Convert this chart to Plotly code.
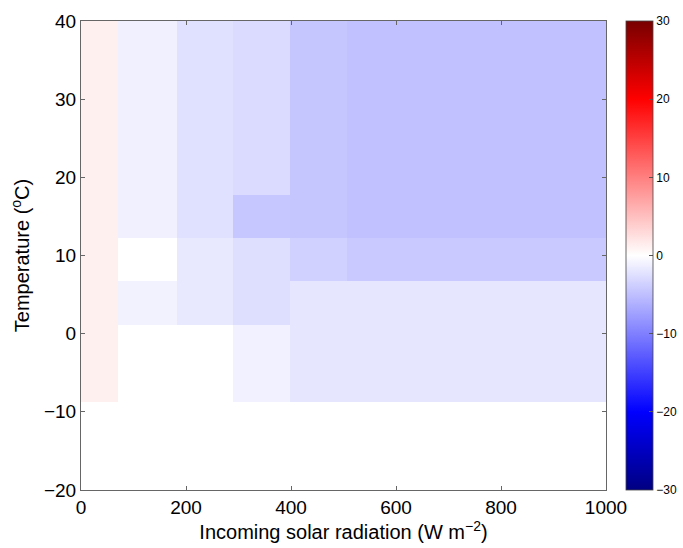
import plotly.graph_objects as go

# Bin edges (irregular bins)
radiation_edges = [0, 70, 183, 290, 398, 507, 1000]
temperature_edges = [-20, -8.7, 1.1, 6.7, 12.2, 17.7, 40]

# Values per cell: rows = temperature bins (bottom->top), cols = radiation bins
row_m20_m9 = [0.0, 0.0, 0.0, 0.0, 0.0, 0.0]
row_m9_1 = [1.2, 0.0, 0.0, -1.1, -2.0, -2.0]
row_1_7 = [1.2, -1.0, -1.8, -2.6, -2.0, -2.0]
row_7_12 = [1.2, 0.0, -1.8, -2.6, -3.6, -4.2]
row_12_18 = [1.2, -1.2, -2.4, -4.4, -4.5, -4.9]
row_18_40 = [1.2, -1.2, -2.4, -2.8, -4.5, -4.9]

z = [row_m20_m9, row_m9_1, row_1_7, row_7_12, row_12_18, row_18_40]

colorscale = [
    [0.0, "rgb(0,0,130)"],
    [1/6, "rgb(0,0,255)"],
    [0.5, "rgb(255,255,255)"],
    [5/6, "rgb(255,0,0)"],
    [1.0, "rgb(120,0,0)"],
]

font_family = "Liberation Sans, Arial, Helvetica, sans-serif"

fig = go.Figure(
    go.Heatmap(
        x=radiation_edges,
        y=temperature_edges,
        z=z,
        zmin=-30,
        zmax=30,
        colorscale=colorscale,
        colorbar=dict(
            thickness=27,
            thicknessmode="pixels",
            len=1,
            lenmode="fraction",
            x=1.038,
            xanchor="left",
            y=0.5,
            yanchor="middle",
            tickvals=[-30, -20, -10, 0, 10, 20, 30],
            ticks="inside",
            ticklen=4,
            tickcolor="#555",
            tickfont=dict(size=12, color="black", family=font_family),
            outlinewidth=0.8,
            outlinecolor="#444",
            xpad=0,
            ypad=0,
        ),
    )
)

fig.update_layout(
    width=683,
    height=548,
    margin=dict(l=81, r=77, t=21, b=58, autoexpand=False),
    paper_bgcolor="white",
    plot_bgcolor="white",
    font=dict(family=font_family, size=19, color="black"),
)

fig.update_xaxes(
    range=[0, 1000],
    tickvals=[0, 200, 400, 600, 800, 1000],
    ticks="inside",
    ticklen=4,
    tickcolor="#666",
    showline=True,
    linecolor="#666",
    linewidth=1,
    mirror="ticks",
    showgrid=False,
    zeroline=False,
    tickfont=dict(size=19),
    title=dict(text="Incoming solar radiation (W m<sup>−2</sup>)", font=dict(size=20), standoff=4),
)
fig.update_yaxes(
    range=[-20, 40],
    tickvals=[-20, -10, 0, 10, 20, 30, 40],
    ticks="inside",
    ticklen=4,
    tickcolor="#666",
    showline=True,
    linecolor="#666",
    linewidth=1,
    mirror="ticks",
    showgrid=False,
    zeroline=False,
    tickfont=dict(size=19),
    title=dict(text="Temperature (<sup>o</sup>C)", font=dict(size=20), standoff=8),
)

fig.write_html("out.html")
